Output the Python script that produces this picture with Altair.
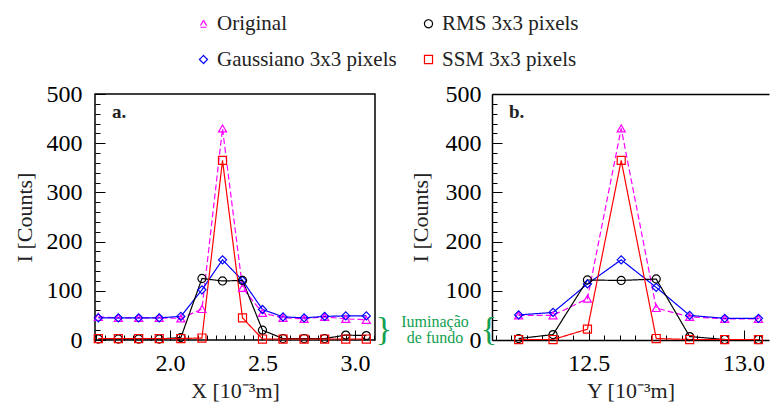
import altair as alt
import pandas as pd

FONT = "Liberation Serif"
GREEN = "#12a050"

SERIES = ["Original", "RMS 3x3 pixels", "Gaussiano 3x3 pixels", "SSM 3x3 pixels"]
COLORS = ["#ff00ff", "#000000", "#0000ff", "#ff0000"]
SHAPES = ["triangle-up", "circle", "diamond", "square"]
DASHES = [[6, 3], [1, 0], [1, 0], [1, 0]]
DRAW_ORDER = ["Original", "Gaussiano 3x3 pixels", "RMS 3x3 pixels", "SSM 3x3 pixels"]

# Profile along X (panel a)
x_pos = [1.613, 1.721, 1.831, 1.942, 2.059, 2.173, 2.284, 2.392, 2.500, 2.611, 2.725, 2.836, 2.950, 3.061]
x_original = [47, 45, 45, 45, 44, 63, 430, 106, 55, 45, 43, 47, 43, 41]
x_gaussiano = [45, 45, 45, 45, 48, 102, 163, 121, 62, 47, 45, 48, 49, 49]
x_rms = [2, 2, 2, 2, 5, 125, 120, 121, 20, 3, 3, 3, 10, 9]
x_ssm = [3, 3, 3, 3, 3, 4, 365, 45, 2, 2, 2, 2, 2, 2]

# Profile along Y (panel b)
y_pos = [12.274, 12.385, 12.496, 12.605, 12.718, 12.826, 12.939, 13.048]
y_original = [50, 50, 84, 430, 65, 47, 43, 43]
y_gaussiano = [51, 56, 114, 163, 107, 50, 44, 44]
y_rms = [3, 11, 122, 121, 124, 7, 1, 1]
y_ssm = [1, 1, 22, 365, 3, 1, 1, 1]

Y_TICKS = [0, 100, 200, 300, 400, 500]
Y_MINOR = list(range(0, 501, 20))
X_LEFT_TICKS = [2.0, 2.5, 3.0]
X_RIGHT_TICKS = [12.5, 13.0]
X_LEFT_DOMAIN = [1.595, 3.108]
X_RIGHT_DOMAIN = [12.188, 13.082]
X_LEFT_MINOR = [round(1.6 + 0.05 * i, 2) for i in range(31)]
X_RIGHT_MINOR = [round(12.2 + 0.05 * i, 2) for i in range(18)]

PANEL_LABELS = ["a.", "b."]
BACKGROUND_NOTE = "Iuminação\nde fundo"
BACKGROUND_LEVEL = 20

W_LEFT, W_RIGHT, H = 280, 277, 246


def profile_frame(pos, values_by_series):
    rows = []
    for name in DRAW_ORDER:
        for p, v in zip(pos, values_by_series[name]):
            rows.append({"pos": p, "I": v, "serie": name})
    return pd.DataFrame(rows)


left_df = profile_frame(x_pos, {
    "Original": x_original, "Gaussiano 3x3 pixels": x_gaussiano,
    "RMS 3x3 pixels": x_rms, "SSM 3x3 pixels": x_ssm})
right_df = profile_frame(y_pos, {
    "Original": y_original, "Gaussiano 3x3 pixels": y_gaussiano,
    "RMS 3x3 pixels": y_rms, "SSM 3x3 pixels": y_ssm})

legend = alt.Legend(
    orient="none", legendX=98, legendY=-81, direction="horizontal", columns=2, title=None,
    labelFont=FONT, labelFontSize=21, labelColor="#222", labelLimit=400,
    symbolSize=65, symbolStrokeWidth=1.2, labelOffset=3,
    rowPadding=14, columnPadding=21,
)
color_scale = alt.Scale(domain=SERIES, range=COLORS)
shape_scale = alt.Scale(domain=SERIES, range=SHAPES)
dash_scale = alt.Scale(domain=SERIES, range=DASHES)

y_scale = alt.Scale(domain=[0, 500], nice=False, zero=False)

major_y = "datum.value % 100 === 0"
major_x = "abs(datum.value * 2 - round(datum.value * 2)) < 0.001"

note_df = pd.DataFrame({"I": [BACKGROUND_LEVEL], "note": [BACKGROUND_NOTE]})


def panel(df, x_title, x_domain, x_ticks, x_minor, width, tag, label_pad, title_pad, boxed):
    x_scale = alt.Scale(domain=x_domain, nice=False, zero=False)
    base = alt.Chart(df)

    lines = base.mark_line(strokeWidth=1.2, clip=False).encode(
        x=alt.X("pos:Q", scale=x_scale, axis=alt.Axis(
            values=x_ticks, format=".1f", ticks=False, domain=False, grid=False,
            labelFont=FONT, labelFontSize=24, labelColor="#000", labelPadding=11,
            title=x_title, titleFont=FONT, titleFontSize=22, titleFontWeight="normal",
            titleColor="#222", titlePadding=5)),
        y=alt.Y("I:Q", scale=y_scale, axis=alt.Axis(
            values=Y_TICKS, ticks=False, domain=False, grid=False,
            labelFont=FONT, labelFontSize=24, labelColor="#000", labelPadding=label_pad,
            title="I [Counts]", titleFont=FONT, titleFontSize=22, titleFontWeight="normal",
            titleColor="#222", titlePadding=title_pad)),
        color=alt.Color("serie:N", scale=color_scale, legend=legend),
        strokeDash=alt.StrokeDash("serie:N", scale=dash_scale, legend=None),
    )

    points = base.mark_point(filled=False, size=65, strokeWidth=1.2, opacity=1, clip=False).encode(
        x=alt.X("pos:Q", scale=x_scale, axis=None),
        y=alt.Y("I:Q", scale=y_scale, axis=None),
        color=alt.Color("serie:N", scale=color_scale, legend=legend),
        shape=alt.Shape("serie:N", scale=shape_scale, legend=legend),
    )

    # inward ticks along the left and bottom edges of the frame
    ticks = base.mark_point(opacity=0).encode(
        x=alt.X("pos:Q", scale=x_scale, axis=alt.Axis(
            orient="top", offset=-H, values=x_minor, labels=False, grid=False,
            domain=not boxed, domainColor="#000", domainWidth=1.5,
            tickColor="#000", tickWidth=1,
            tickSize={"condition": {"test": major_x, "value": 10}, "value": 5},
            title=None)),
        y=alt.Y("I:Q", scale=y_scale, axis=alt.Axis(
            orient="right", offset=-width, values=Y_MINOR, labels=False, grid=False,
            domain=not boxed, domainColor="#000", domainWidth=1.5,
            tickColor="#000", tickWidth=1,
            tickSize={"condition": {"test": major_y, "value": 10}, "value": 5},
            title=None)),
    )

    tag_text = alt.Chart(pd.DataFrame({"t": [tag]})).mark_text(
        align="left", baseline="alphabetic", font=FONT, fontSize=19,
        fontWeight="bold", color="#222",
    ).encode(x=alt.value(17), y=alt.value(24), text="t:N")

    layers = [lines, points, ticks, tag_text]

    if boxed:
        # background-level note with a brace, to the right of the frame
        note = alt.Chart(note_df).mark_text(
            font=FONT, fontSize=16, color=GREEN, lineBreak="\n", lineHeight=16,
            align="center", baseline="middle", dy=-8,
        ).encode(x=alt.value(width + 60), y=alt.Y("I:Q", scale=y_scale, axis=None), text="note:N")
        brace = alt.Chart(note_df).mark_text(
            font=FONT, fontSize=34, color=GREEN, align="center", baseline="middle", text="}",
        ).encode(x=alt.value(width + 9), y=alt.Y("I:Q", scale=y_scale, axis=None))
        layers += [note, brace]
    else:
        top_edge = base.mark_point(opacity=0).encode(
            x=alt.X("pos:Q", scale=x_scale, axis=alt.Axis(
                orient="top", labels=False, ticks=False, grid=False,
                domain=True, domainColor="#000", domainWidth=1.5, title=None)),
            y=alt.Y("I:Q", scale=y_scale, axis=None),
        )
        brace = alt.Chart(note_df).mark_text(
            font=FONT, fontSize=34, color=GREEN, align="center", baseline="middle", text="{",
        ).encode(x=alt.value(-3), y=alt.Y("I:Q", scale=y_scale, axis=None))
        layers += [top_edge, brace]

    view = (alt.ViewBackground(stroke="#000", strokeWidth=1.5) if boxed
            else alt.ViewBackground(stroke="transparent"))
    return alt.layer(*layers).resolve_axis(x="independent", y="independent").properties(
        width=width, height=H, view=view)


left = panel(left_df, "X [10⁻³m]", X_LEFT_DOMAIN, X_LEFT_TICKS, X_LEFT_MINOR,
             W_LEFT, PANEL_LABELS[0], 13, 10, True)
right = panel(right_df, "Y [10⁻³m]", X_RIGHT_DOMAIN, X_RIGHT_TICKS, X_RIGHT_MINOR,
              W_RIGHT, PANEL_LABELS[1], 11, 13, False)

chart = alt.hconcat(left, right, spacing=117, bounds="flush").properties(
    padding={"left": 12, "top": 13, "right": 0, "bottom": 6},
).configure(background="white")

chart.save("out.html", embed_options={"renderer": "svg", "actions": False})
